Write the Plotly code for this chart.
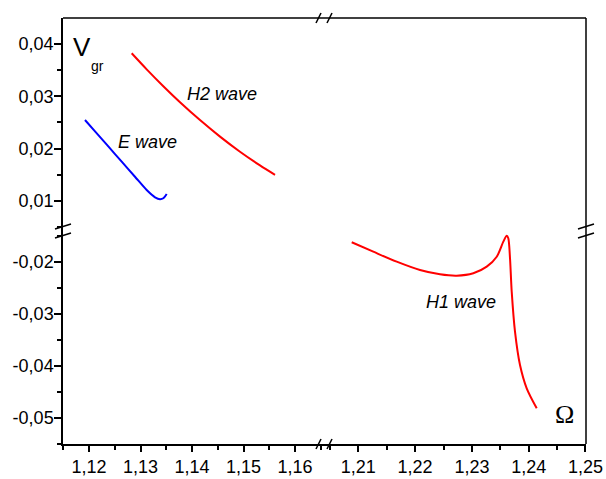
import plotly.graph_objects as go

# ---------------- data ----------------
e_omega = [1.11922, 1.12117, 1.12375, 1.12635, 1.12893, 1.13120, 1.13282, 1.13379, 1.13443, 1.13509]
e_vgr = [0.02547, 0.02329, 0.02041, 0.01750, 0.01462, 0.01208, 0.01069, 0.01031, 0.01050, 0.01132]

h2_omega = [1.12829, 1.13120, 1.13443, 1.13767, 1.14155, 1.14544, 1.14932, 1.15320, 1.15612]
h2_vgr = [0.03822, 0.03515, 0.03192, 0.02886, 0.02545, 0.02229, 0.01940, 0.01678, 0.01498]

h1_omega = [1.20884, 1.21264, 1.21676, 1.22086, 1.22438, 1.22732, 1.23025, 1.23261, 1.23437,
            1.23553, 1.23613, 1.23641, 1.23671, 1.23701, 1.23759, 1.23847, 1.23965, 1.24141]
h1_vgr = [-0.01627, -0.01808, -0.02000, -0.02160, -0.02242, -0.02269, -0.02223, -0.02096, -0.01904,
          -0.01615, -0.01500, -0.01550, -0.01935, -0.02577, -0.03346, -0.03987, -0.04435, -0.04819]

x_left_ticks = [1.12, 1.13, 1.14, 1.15, 1.16]
x_left_text = ["1,12", "1,13", "1,14", "1,15", "1,16"]
x_right_ticks = [1.21, 1.22, 1.23, 1.24, 1.25]
x_right_text = ["1,21", "1,22", "1,23", "1,24", "1,25"]
y_top_ticks = [0.01, 0.02, 0.03, 0.04]
y_top_text = ["0,01", "0,02", "0,03", "0,04"]
y_bot_ticks = [-0.05, -0.04, -0.03, -0.02]
y_bot_text = ["-0,05", "-0,04", "-0,03", "-0,02"]

# ---------------- layout geometry (pixels) ----------------
W, H = 606, 479
L, R, T, B = 63, 586, 18, 444
XB, YB = 324, 231


def fx(p):
    return p / W


def fy(p):
    return 1 - p / H


FONT = "Liberation Sans, Arial, sans-serif"

fig = go.Figure()
fig.add_trace(go.Scatter(x=e_omega, y=e_vgr, mode="lines", xaxis="x", yaxis="y",
                         line=dict(color="#0000ff", width=2, shape="spline", smoothing=0.8),
                         showlegend=False))
fig.add_trace(go.Scatter(x=h2_omega, y=h2_vgr, mode="lines", xaxis="x", yaxis="y",
                         line=dict(color="#ff0000", width=2, shape="spline", smoothing=0.8),
                         showlegend=False))
fig.add_trace(go.Scatter(x=h1_omega, y=h1_vgr, mode="lines", xaxis="x2", yaxis="y2",
                         line=dict(color="#ff0000", width=2, shape="spline", smoothing=0.8),
                         showlegend=False))

common = dict(showgrid=False, zeroline=False, showline=True, linecolor="black", linewidth=1.5,
              ticks="outside", tickcolor="black", tickwidth=1.5, automargin=False,
              tickfont=dict(family=FONT, size=18, color="black"))

fig.update_layout(
    template="none",
    width=W, height=H, autosize=False, showlegend=False,
    margin=dict(l=0, r=0, t=0, b=0, pad=0),
    paper_bgcolor="white", plot_bgcolor="white",
    xaxis=dict(domain=[fx(L), fx(XB)], range=[1.11495, 1.16563], anchor="y2",
               tickvals=x_left_ticks, ticktext=x_left_text, ticklen=6,
               minor=dict(ticks="outside", dtick=0.005, tick0=1.115, ticklen=4,
                          tickcolor="black", tickwidth=1.5),
               **common),
    xaxis2=dict(domain=[fx(XB), fx(R)], range=[1.20396, 1.25009], anchor="y2",
                tickvals=x_right_ticks, ticktext=x_right_text, ticklen=6,
                minor=dict(ticks="outside", dtick=0.005, tick0=1.205, ticklen=4,
                           tickcolor="black", tickwidth=1.5),
                **common),
    yaxis=dict(domain=[fy(YB), fy(T)], range=[0.004245, 0.04497], anchor="x",
               tickvals=y_top_ticks, ticktext=y_top_text, ticklen=7, ticklabelstandoff=-3,
               minor=dict(ticks="outside", dtick=0.005, tick0=0.005, ticklen=4,
                          tickcolor="black", tickwidth=1.5),
               **common),
    yaxis2=dict(domain=[fy(B), fy(YB)], range=[-0.05506, -0.0141], anchor="x",
                tickvals=y_bot_ticks, ticktext=y_bot_text, ticklen=7, ticklabelstandoff=-3,
                minor=dict(ticks="outside", dtick=0.005, tick0=-0.055, ticklen=4,
                           tickcolor="black", tickwidth=1.5),
                **common),
)

shapes = []
line_k = dict(color="black", width=1.5)
# top and right frame
shapes.append(dict(type="line", xref="paper", yref="paper", x0=fx(L), y0=fy(T), x1=fx(R), y1=fy(T), line=line_k))
shapes.append(dict(type="line", xref="paper", yref="paper", x0=fx(R), y0=fy(T), x1=fx(R), y1=fy(B), line=line_k))
# break marks on horizontal axes
for yy in (T, B):
    for cx in (XB - 5.5, XB + 5.5):
        shapes.append(dict(type="line", xref="paper", yref="paper",
                           x0=fx(cx - 2.5), y0=fy(yy + 5), x1=fx(cx + 2.5), y1=fy(yy - 5), line=line_k))
# break marks on vertical axes
for xx in (L, R):
    for cy in (YB - 4.5, YB + 4.5):
        shapes.append(dict(type="line", xref="paper", yref="paper",
                           x0=fx(xx - 8), y0=fy(cy + 2.5), x1=fx(xx + 8), y1=fy(cy - 2.5), line=line_k))
fig.update_layout(shapes=shapes)

ann = []


def text(s, cx, cy, size, family=FONT, italic=False):
    ann.append(dict(text=f"<i>{s}</i>" if italic else s, x=fx(cx), y=fy(cy), xref="paper", yref="paper",
                    xanchor="center", yanchor="middle", showarrow=False,
                    font=dict(family=family, size=size, color="black")))


text("V", 81.5, 47, 26)
text("gr", 97, 66, 14)
text("Ω", 564.5, 414, 26, family="Liberation Serif, Times New Roman, serif")
text("H2 wave", 221.5, 93.5, 18, italic=True)
text("E wave", 147.5, 141.5, 18, italic=True)
text("H1 wave", 460.5, 301.5, 18, italic=True)
fig.update_layout(annotations=ann)

fig.write_html("out.html")
